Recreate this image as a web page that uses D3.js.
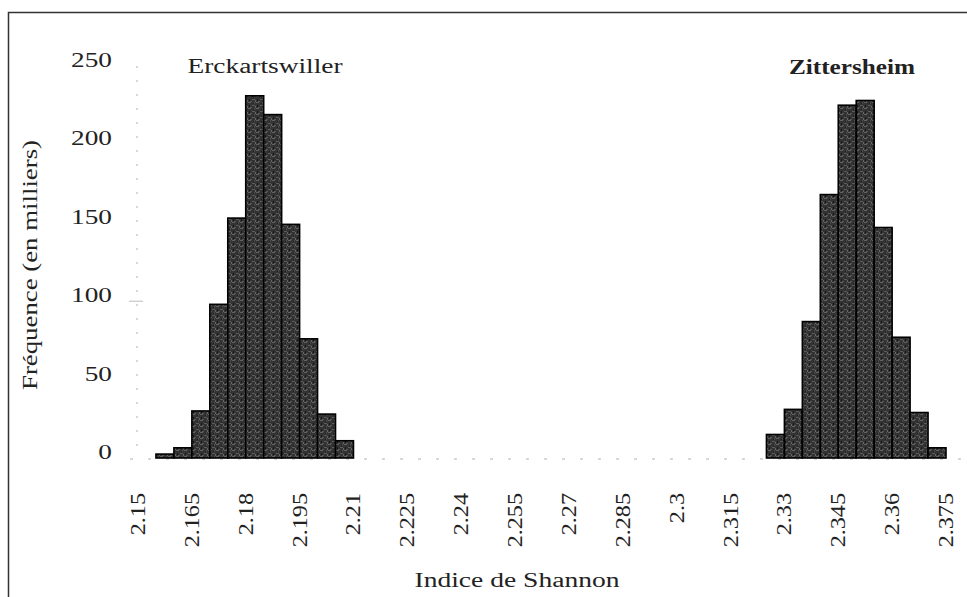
<!DOCTYPE html>
<html>
<head>
<meta charset="utf-8">
<script src="https://cdn.jsdelivr.net/npm/d3@7"></script>
<style>
  body { margin: 0; background: #fff; }
  text { font-family: "Liberation Serif", "DejaVu Serif", serif; fill: #222; }
</style>
</head>
<body>
<div id="chart"></div>
<script>
// bin starts (width 0.005) and frequencies (thousands)
var erckBins = [2.155, 2.16, 2.165, 2.17, 2.175, 2.18, 2.185, 2.19, 2.195, 2.2, 2.205];
var erckVals = [2.5, 6.5, 30, 98, 153, 231, 219, 149, 76, 28, 11];
var zittBins = [2.325, 2.33, 2.335, 2.34, 2.345, 2.35, 2.355, 2.36, 2.365, 2.37];
var zittVals = [15, 31, 87, 168, 225, 228, 147, 77, 29, 6.5];
var binWidth = 0.005;

var xTicks = [2.15, 2.165, 2.18, 2.195, 2.21, 2.225, 2.24, 2.255, 2.27, 2.285, 2.3, 2.315, 2.33, 2.345, 2.36, 2.375];
var yTicks = [0, 50, 100, 150, 200, 250];

var width = 967, height = 597;

var svg = d3.select("#chart").append("svg")
    .attr("width", width).attr("height", height);

// texture for the bars
var defs = svg.append("defs");
var pat = defs.append("pattern")
    .attr("id", "tex").attr("patternUnits", "userSpaceOnUse")
    .attr("width", 8).attr("height", 6);
pat.append("rect").attr("width", 8).attr("height", 6).attr("fill", "#333");
var specks = [[0,0,3,1,"#606060"],[4,3,3,1,"#5a5a5a"],[6,0,1,2,"#4d4d4d"],[1,3,1,2,"#161616"],
              [2,5,2,1,"#555"],[5,1,1,1,"#1a1a1a"],[7,4,1,2,"#666"]];
specks.forEach(function(s) {
  pat.append("rect").attr("x", s[0]).attr("y", s[1]).attr("width", s[2]).attr("height", s[3]).attr("fill", s[4]);
});

// frame
svg.append("rect")
    .attr("x", 8.5).attr("y", 12.5).attr("width", 1000).attr("height", 700)
    .attr("fill", "none").attr("stroke", "#333").attr("stroke-width", 1.5);

var x = d3.scaleLinear().domain([2.15, 2.375]).range([138, 946]);
var y = d3.scaleLinear().domain([0, 250]).range([458, 66]);

// y axis (dotted light line)
svg.append("line")
    .attr("x1", 137).attr("x2", 137).attr("y1", y(250)).attr("y2", y(0))
    .attr("stroke", "#ccc").attr("stroke-width", 1.5).attr("stroke-dasharray", "2,12");
svg.append("line")
    .attr("x1", 129).attr("x2", 143).attr("y1", y(100)).attr("y2", y(100))
    .attr("stroke", "#bbb").attr("stroke-width", 1);

// x axis (dotted light line)
svg.append("line")
    .attr("x1", 130).attr("x2", 962).attr("y1", y(0) + 1).attr("y2", y(0) + 1)
    .attr("stroke", "#ccc").attr("stroke-width", 1.5).attr("stroke-dasharray", "3,15");

// y tick labels, glyphs a bit wide like the original
svg.append("g").selectAll("text")
    .data(yTicks)
    .enter()
    .append("text")
    .attr("transform", function(d) { return "translate(112," + (y(d) + 1) + ") scale(1.3,1)"; })
    .attr("text-anchor", "end")
    .style("font-size", "21px")
    .text(function(d) { return d; });

// x tick labels, rotated
svg.append("g").selectAll("text")
    .data(xTicks)
    .enter()
    .append("text")
    .attr("transform", function(d) { return "translate(" + (x(d) + 7) + ",493) rotate(-90) scale(1.15,1)"; })
    .attr("text-anchor", "end")
    .style("font-size", "21px")
    .text(function(d) { return String(d); });

function drawBars(bins, vals) {
  svg.append("g").selectAll("rect")
      .data(bins)
      .enter()
      .append("rect")
      .attr("x", function(d) { return x(d); })
      .attr("width", function(d) { return x(d + binWidth) - x(d); })
      .attr("y", function(d, i) { return y(vals[i]); })
      .attr("height", function(d, i) { return y(0) - y(vals[i]); })
      .attr("fill", "url(#tex)")
      .attr("stroke", "#000")
      .attr("stroke-width", 1.6);
}
drawBars(erckBins, erckVals);
drawBars(zittBins, zittVals);

// group labels
svg.append("text")
    .attr("x", 265).attr("y", 73)
    .attr("text-anchor", "middle")
    .style("font-size", "20px")
    .attr("textLength", 155).attr("lengthAdjust", "spacingAndGlyphs")
    .text("Erckartswiller");
svg.append("text")
    .attr("x", 852).attr("y", 74)
    .attr("text-anchor", "middle")
    .style("font-size", "20px").style("font-weight", "bold")
    .attr("textLength", 126).attr("lengthAdjust", "spacingAndGlyphs")
    .text("Zittersheim");

// axis titles
svg.append("text")
    .attr("transform", "translate(37,265) rotate(-90)")
    .attr("text-anchor", "middle")
    .style("font-size", "21px")
    .attr("textLength", 250).attr("lengthAdjust", "spacingAndGlyphs")
    .text("Fréquence (en milliers)");
svg.append("text")
    .attr("x", 517).attr("y", 587)
    .attr("text-anchor", "middle")
    .style("font-size", "20px")
    .attr("textLength", 205).attr("lengthAdjust", "spacingAndGlyphs")
    .text("Indice de Shannon");
</script>
</body>
</html>
